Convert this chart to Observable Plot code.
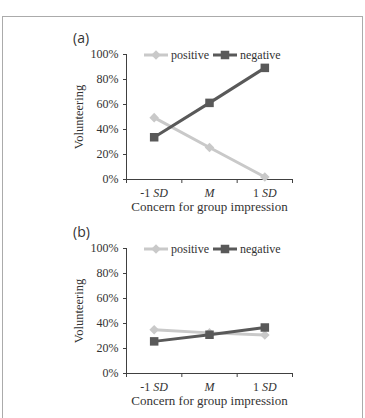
<!DOCTYPE html>
<html>
<head>
<meta charset="utf-8">
<script src="https://cdn.jsdelivr.net/npm/d3@7"></script>
<script src="https://cdn.jsdelivr.net/npm/@observablehq/plot@0.6"></script>
<style>
  body { margin: 0; background: #fff; width: 365px; height: 418px; overflow: hidden; position: relative; }
  #frame { position: absolute; left: 2px; top: 16px; width: 359px; height: 430px; border: 1.5px solid #ababab; }
  .panel { position: absolute; left: 0; width: 365px; }
  .tag { position: absolute; left: 73px; font: 14px "Open Sans"; color: #333; line-height: 1; }
  .legend { position: absolute; left: 144px; height: 14px; display: flex; align-items: center;
            font: 12px "Liberation Serif", "Times New Roman", serif; color: #333; white-space: nowrap; }
  .legend svg { display: block; }
</style>
</head>
<body>
<div id="frame"></div>
<div id="panelA" class="panel" style="top:0px"></div>
<div id="panelB" class="panel" style="top:194px"></div>
<script>
// Volunteering rate by concern for group impression (-1 SD, mean, +1 SD)
const categories = ["-1 SD", "M", "1 SD"];
const seriesNames = ["positive", "negative"];
const panelA_positive = [0.495, 0.256, 0.02];
const panelA_negative = [0.338, 0.613, 0.893];
const panelB_positive = [0.35, 0.325, 0.308];
const panelB_negative = [0.257, 0.31, 0.368];
const yTicks = [0, 0.2, 0.4, 0.6, 0.8, 1];
const panelTags = ["(a)", "(b)"];
const yTitle = "Volunteering";
const xTitle = "Concern for group impression";

const seriesColor = { positive: "#c9c9c9", negative: "#595959" };
const seriesSymbol = { positive: d3.symbolDiamond2, negative: d3.symbolSquare };
const seriesR = { positive: 4.3, negative: 4.8 };
const axisColor = "#404040";
const italicTokens = /(SD|M)/;

function drawPanel(el, tag, values) {
  const rows = [];
  seriesNames.forEach(s => values[s].forEach((v, i) => rows.push({ series: s, i, v })));
  const n = categories.length;
  const xDomain = [-0.5, n - 0.5];
  const bounds = d3.range(n + 1).map(k => k - 0.5);

  const marks = [
    Plot.axisY({ ticks: yTicks, tickFormat: d3.format(".0%"), tickSize: 3, tickPadding: 5,
                 label: null, stroke: axisColor, fill: "#333" }),
    Plot.axisX({ ticks: bounds, tickSize: 4, tickFormat: () => "", label: null, stroke: axisColor }),
    Plot.axisX({ ticks: d3.range(n), tickSize: 0, tickPadding: 8.5, tickFormat: i => categories[i],
                 label: null, fill: "#333" }),
    Plot.ruleY([0], { stroke: axisColor }),
    Plot.ruleX([xDomain[0]], { stroke: axisColor }),
    Plot.text([xTitle], { text: d => d, frameAnchor: "bottom", lineAnchor: "middle", textAnchor: "middle",
                          dy: 27.5, fill: "#333", fontSize: 13 }),
    Plot.text([yTitle], { text: d => d, frameAnchor: "left", lineAnchor: "middle", textAnchor: "middle",
                          dx: -48, rotate: -90, fill: "#333", fontSize: 12.5 })
  ];
  for (const s of seriesNames) {
    const data = rows.filter(d => d.series === s);
    marks.push(Plot.line(data, { x: "i", y: "v", stroke: seriesColor[s], strokeWidth: 3 }));
    marks.push(Plot.dot(data, { x: "i", y: "v", symbol: seriesSymbol[s], r: seriesR[s],
                                fill: seriesColor[s], stroke: "none" }));
  }

  const svg = Plot.plot({
    width: 365, height: 220,
    marginLeft: 126, marginRight: 73, marginTop: 54, marginBottom: 41,
    x: { type: "linear", domain: xDomain, axis: null },
    y: { domain: [0, 1], axis: null },
    style: { fontFamily: '"Liberation Serif", "Times New Roman", serif', fontSize: "12px",
             background: "transparent", overflow: "visible" },
    marks
  });

  // italic statistical symbols in the category labels
  svg.querySelectorAll('g[aria-label="x-axis tick label"] text').forEach(t => {
    const label = t.textContent;
    if (!label) return;
    t.textContent = "";
    t.setAttribute("style", "white-space: pre");
    label.split(italicTokens).filter(p => p !== "").forEach(p => {
      const ts = document.createElementNS("http://www.w3.org/2000/svg", "tspan");
      if (italicTokens.test(p)) ts.setAttribute("font-style", "italic");
      ts.textContent = p;
      t.appendChild(ts);
    });
  });
  el.appendChild(svg);

  const tagDiv = document.createElement("div");
  tagDiv.className = "tag";
  tagDiv.style.top = "31px";
  tagDiv.textContent = tag;
  el.appendChild(tagDiv);

  // legend: line + marker swatch, then series name
  const legend = document.createElement("div");
  legend.className = "legend";
  legend.style.top = "48px";
  seriesNames.forEach((s, k) => {
    const sw = d3.create("svg").attr("width", 24).attr("height", 14)
      .style("margin-left", k ? "4px" : "0px");
    sw.append("line").attr("x1", 0).attr("x2", 24).attr("y1", 7).attr("y2", 7)
      .attr("stroke", seriesColor[s]).attr("stroke-width", 3);
    sw.append("path")
      .attr("d", d3.symbol(seriesSymbol[s], Math.PI * seriesR[s] * seriesR[s])())
      .attr("transform", "translate(12,7)").attr("fill", seriesColor[s]);
    legend.appendChild(sw.node());
    const lab = document.createElement("span");
    lab.style.marginLeft = "3px";
    lab.textContent = s;
    legend.appendChild(lab);
  });
  el.appendChild(legend);
}

drawPanel(document.getElementById("panelA"), panelTags[0],
  { positive: panelA_positive, negative: panelA_negative });
drawPanel(document.getElementById("panelB"), panelTags[1],
  { positive: panelB_positive, negative: panelB_negative });
</script>
</body>
</html>
